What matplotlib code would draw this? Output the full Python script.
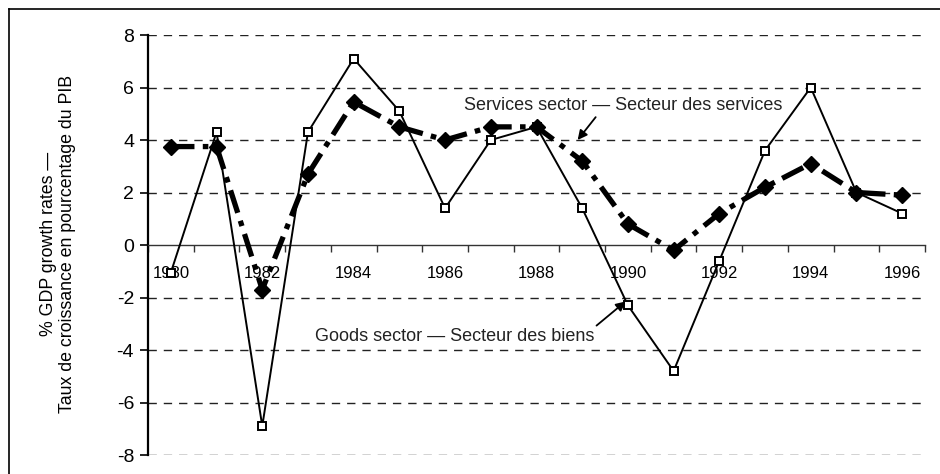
import matplotlib
matplotlib.use("Agg")
import matplotlib.pyplot as plt
from matplotlib.lines import Line2D
from matplotlib import font_manager

years = list(range(1980, 1997))
goods = [-1.05, 4.3, -6.9, 4.3, 7.1, 5.1, 1.4, 4.0, 4.5, 1.4, -2.3, -4.8, -0.6, 3.6, 6.0, 2.0, 1.2]
services = [3.75, 3.75, -1.7, 2.7, 5.45, 4.5, 4.0, 4.5, 4.5, 3.2, 0.8, -0.2, 1.2, 2.2, 3.1, 2.0, 1.9]
yticks = [-8, -6, -4, -2, 0, 2, 4, 6, 8]
xlabels = ["1980", "1982", "1984", "1986", "1988", "1990", "1992", "1994", "1996"]
ylabel_text = "% GDP growth rates \u2014\nTaux de croissance en pourcentage du PIB"
services_label = "Services sector \u2014 Secteur des services"
goods_label = "Goods sector \u2014 Secteur des biens"

names = {f.name for f in font_manager.fontManager.ttflist}
narrow = "Liberation Sans Narrow" if "Liberation Sans Narrow" in names else "Liberation Sans"
plt.rcParams['font.family'] = ['Liberation Sans', 'DejaVu Sans']
plt.rcParams['lines.scale_dashes'] = False

W, H = 940, 474
fig = plt.figure(figsize=(W / 100, H / 100), dpi=100)
ax = fig.add_axes([148 / W, 1 - 455 / H, (925 - 148) / W, (455 - 35) / H])

x = list(range(len(years)))
ax.set_xlim(-0.5, len(years) - 0.5)
ax.set_ylim(-8, 8)

# gridlines (dashed) except zero
for v in yticks:
    if v != 0:
        ax.axhline(v, color="#222222", lw=1.0, dashes=(6, 5), zorder=1)

# goods line
ax.plot(x, goods, color="black", lw=1.4, marker="s", markersize=5.5,
        markerfacecolor="white", markeredgecolor="black", markeredgewidth=1.4,
        zorder=3, clip_on=False)
# services line
ln, = ax.plot(x, services, color="black", lw=3.8, zorder=4, clip_on=False)
ln.set_dashes((17, 6, 4, 6))
ax.plot(x, services, ls="none", marker="D", markersize=8.5, color="black", zorder=5, clip_on=False)

# spines
for s in ["top", "right"]:
    ax.spines[s].set_visible(False)
ax.spines["bottom"].set_position(("data", 0))
ax.spines["bottom"].set_linewidth(1.0)
ax.spines["bottom"].set_color("#333333")
ax.spines["left"].set_linewidth(1.6)

ax.set_yticks(yticks)
ax.set_yticklabels([str(v) for v in yticks])
ax.tick_params(axis="y", direction="out", length=6, width=1.2, labelsize=14, pad=4)

ax.set_xticks([i - 0.5 for i in range(len(years) + 1)])
ax.set_xticklabels([""] * (len(years) + 1))
ax.tick_params(axis="x", which="major", direction="out", length=5, width=1.0, color="#333333")
ax.set_xticks([i for i in range(0, len(years), 2)], minor=True)
ax.set_xticklabels(xlabels, minor=True, fontfamily=narrow, fontsize=12)
ax.tick_params(axis="x", which="minor", length=0, pad=15)

fig.text(58 / W, 1 - 244 / H, ylabel_text, rotation=90, ha="center", va="center",
         fontsize=12.8, linespacing=1.2, multialignment="center")

# annotations
ax.annotate(services_label, xy=(8.9, 4.0), xytext=(9.9, 5.3), fontsize=13,
            fontfamily=narrow, ha="center", va="center", color="#222222",
            arrowprops=dict(arrowstyle="-|>", color="black", lw=1.3, mutation_scale=14,
                            shrinkA=0, shrinkB=0, relpos=(0.42, 0)))
ax.annotate(goods_label, xy=(9.95, -2.15), xytext=(6.2, -3.5), fontsize=13,
            fontfamily=narrow, ha="center", va="center", color="#222222",
            arrowprops=dict(arrowstyle="-|>", color="black", lw=1.3, mutation_scale=14,
                            shrinkA=0, shrinkB=0, relpos=(0.99, 0.9)))

# outer border (left and top visible)
fig.add_artist(Line2D([8.5 / W, 8.5 / W], [0, 1 - 9 / H], color="black", lw=1.2))
fig.add_artist(Line2D([8.5 / W, 1], [1 - 9 / H, 1 - 9 / H], color="black", lw=1.2))

fig.savefig("out.png", dpi=100)
